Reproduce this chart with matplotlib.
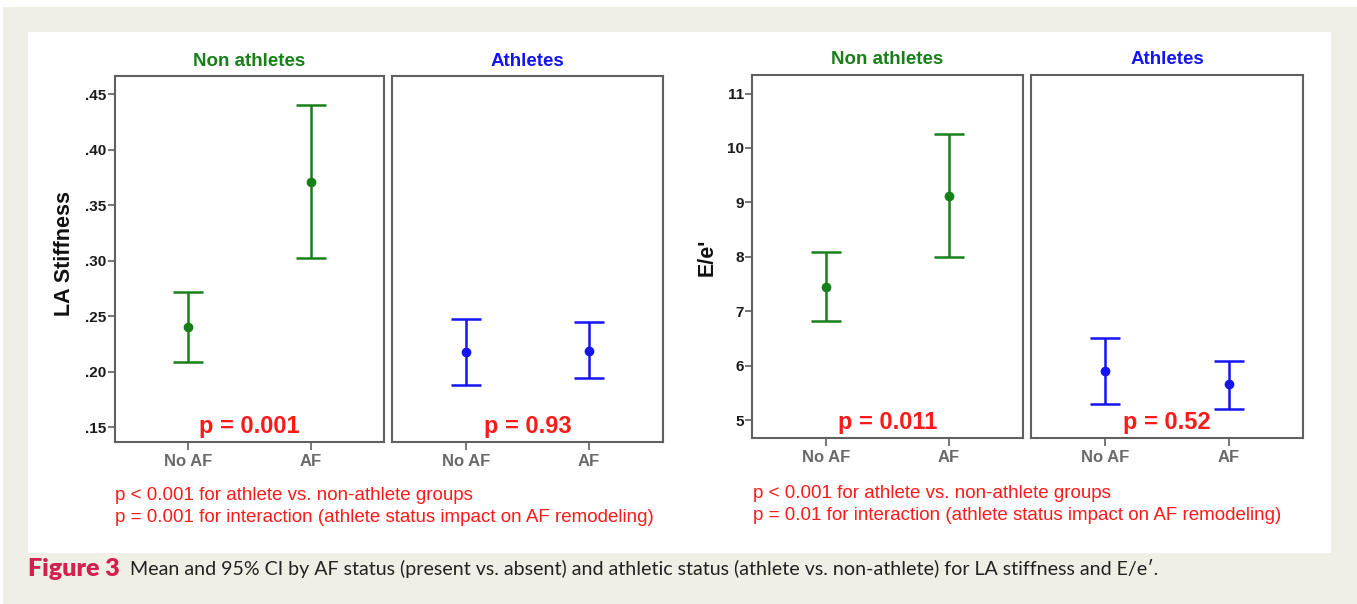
import matplotlib
matplotlib.use("Agg")
import matplotlib.pyplot as plt
import matplotlib.patches as mpatches

# ---- data -----------------------------------------------------------------
categories = ["No AF", "AF"]
groups = ["Non athletes", "Athletes"]

# LA stiffness: mean and 95% CI
la_mean = {"Non athletes": [0.240, 0.371], "Athletes": [0.218, 0.219]}
la_low = {"Non athletes": [0.209, 0.302], "Athletes": [0.188, 0.194]}
la_high = {"Non athletes": [0.272, 0.440], "Athletes": [0.247, 0.245]}
la_ticks = [0.15, 0.20, 0.25, 0.30, 0.35, 0.40, 0.45]
la_ticklabels = [".15", ".20", ".25", ".30", ".35", ".40", ".45"]
la_p = {"Non athletes": "p = 0.001", "Athletes": "p = 0.93"}
la_notes = ["p < 0.001 for athlete vs. non-athlete groups",
            "p = 0.001 for interaction (athlete status impact on AF remodeling)"]

# E/e': mean and 95% CI
ee_mean = {"Non athletes": [7.45, 9.12], "Athletes": [5.90, 5.66]}
ee_low = {"Non athletes": [6.82, 8.00], "Athletes": [5.30, 5.21]}
ee_high = {"Non athletes": [8.08, 10.25], "Athletes": [6.50, 6.09]}
ee_ticks = [5, 6, 7, 8, 9, 10, 11]
ee_ticklabels = ["5", "6", "7", "8", "9", "10", "11"]
ee_p = {"Non athletes": "p = 0.011", "Athletes": "p = 0.52"}
ee_notes = ["p < 0.001 for athlete vs. non-athlete groups",
            "p = 0.01 for interaction (athlete status impact on AF remodeling)"]

caption_head = "Figure 3"
caption_body = ("Mean and 95% CI by AF status (present vs. absent) and athletic status "
                "(athlete vs. non-athlete) for LA stiffness and E/e\u2032.")

# ---- styling --------------------------------------------------------------
W, H = 1357, 604
GREEN = "#17801a"
BLUE = "#1414f5"
RED = "#ff1a1a"
FRAME = "#606060"
GREY_TXT = "#6a6a6a"
SANS = ["Liberation Sans", "DejaVu Sans"]
group_color = {"Non athletes": GREEN, "Athletes": BLUE}

fig = plt.figure(figsize=(W / 100, H / 100), dpi=100)
fig.patch.set_facecolor("white")

# page background and white figure panel
fig.patches.append(mpatches.Rectangle((3 / W, 0), 1 - 3 / W, 1 - 7 / H,
                                      transform=fig.transFigure,
                                      facecolor="#efefe5", edgecolor="none", zorder=-10))
fig.patches.append(mpatches.Rectangle((28 / W, 1 - 553 / H), (1331 - 28) / W, (553 - 32) / H,
                                      transform=fig.transFigure,
                                      facecolor="white", edgecolor="none", zorder=-9))


def px_axes(x0, x1, y0, y1):
    return fig.add_axes([x0 / W, 1 - y1 / H, (x1 - x0) / W, (y1 - y0) / H])


def draw_panel(ax, mean, low, high, color, ylim, ticks, ticklabels, show_y, ptext):
    xs = list(range(len(categories)))
    yerr = [[m - lo for m, lo in zip(mean, low)], [hi - m for m, hi in zip(mean, high)]]
    ax.errorbar(xs, mean, yerr=yerr, fmt="o", color=color, ecolor=color,
                elinewidth=1.8, capsize=11, capthick=1.8, markersize=6,
                markerfacecolor=color, markeredgecolor=color, zorder=3)
    ax.set_xlim(-0.6, 1.6)
    ax.set_ylim(*ylim)
    ax.set_xticks(xs)
    ax.set_xticklabels(categories, fontsize=12, fontweight="bold",
                       color=GREY_TXT, family=SANS)
    ax.set_yticks(ticks)
    if show_y:
        ax.set_yticklabels(ticklabels, fontsize=11, fontweight="bold",
                           color="#1a1a1a", family=SANS)
        ax.tick_params(axis="y", length=5, width=1.2, color=FRAME, pad=1)
    else:
        ax.tick_params(axis="y", left=False, labelleft=False)
    ax.tick_params(axis="x", length=6, width=1.2, color=FRAME, pad=3)
    for s in ax.spines.values():
        s.set_color(FRAME)
        s.set_linewidth(1.5)
    ax.text(0.5, 0.012, ptext, transform=ax.transAxes, ha="center", va="bottom",
            fontsize=17, fontweight="bold", color=RED, family=SANS)


def draw_chart(boxes, mean, low, high, ylim, ticks, ticklabels, pvals, ylabel,
               ylabel_xy, title_y, notes, note_x, note_y):
    for (x0, x1, y0, y1), g in zip(boxes, groups):
        ax = px_axes(x0, x1, y0, y1)
        draw_panel(ax, mean[g], low[g], high[g], group_color[g], ylim, ticks,
                   ticklabels, g == groups[0], pvals[g])
        fig.text((x0 + x1) / 2 / W, 1 - title_y / H, g, ha="center", va="center",
                 fontsize=13.5, fontweight="bold", color=group_color[g], family=SANS)
    fig.text(ylabel_xy[0] / W, 1 - ylabel_xy[1] / H, ylabel, rotation=90,
             ha="center", va="center", fontsize=15.5, fontweight="bold",
             color="#111111", family=SANS)
    for i, line in enumerate(notes):
        fig.text(note_x / W, 1 - (note_y + 22 * i) / H, line, ha="left", va="center",
                 fontsize=13.5, color=RED, family=SANS)


draw_chart([(115, 384, 76, 442), (392, 663, 76, 442)],
           la_mean, la_low, la_high, (0.1365, 0.4665), la_ticks, la_ticklabels,
           la_p, "LA Stiffness", (65, 253), 62, la_notes, 115, 495)

draw_chart([(752, 1023, 75, 438), (1031, 1303, 75, 438)],
           ee_mean, ee_low, ee_high, (4.67, 11.34), ee_ticks, ee_ticklabels,
           ee_p, "E/e'", (707, 257), 60, ee_notes, 753, 494)

# caption
cap_font = ["Lato", "DejaVu Sans"]
t = fig.text(28 / W, 1 - 569 / H, caption_head, ha="left", va="center",
             fontsize=18, fontweight="heavy", color="#d4204f", family=cap_font)
fig.canvas.draw()
bb = t.get_window_extent()
fig.text((bb.x1 + 10) / W, 1 - 569 / H, caption_body, ha="left", va="center",
         fontsize=14.1, color="#222222", family=cap_font)

fig.savefig("out.png", dpi=100, facecolor=fig.get_facecolor())
